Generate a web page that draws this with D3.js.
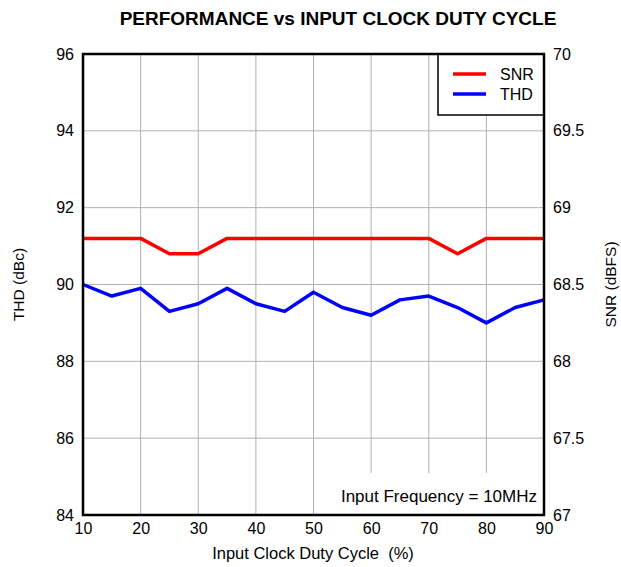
<!DOCTYPE html>
<html>
<head>
<meta charset="utf-8">
<script src="https://cdn.jsdelivr.net/npm/d3@7/dist/d3.min.js"></script>
<style>
  body { margin: 0; background: #fff; }
  svg { display: block; font-family: Arial, "Liberation Sans", sans-serif; }
</style>
</head>
<body>
<svg id="chart" width="621" height="567"></svg>
<script>
const dutyCycle = [10, 15, 20, 25, 30, 35, 40, 45, 50, 55, 60, 65, 70, 75, 80, 85, 90];
const snr = [68.8, 68.8, 68.8, 68.7, 68.7, 68.8, 68.8, 68.8, 68.8, 68.8, 68.8, 68.8, 68.8, 68.7, 68.8, 68.8, 68.8];
const thd = [90.0, 89.7, 89.9, 89.3, 89.5, 89.9, 89.5, 89.3, 89.8, 89.4, 89.2, 89.6, 89.7, 89.4, 89.0, 89.4, 89.6];
const xTicks = [10, 20, 30, 40, 50, 60, 70, 80, 90];
const leftTicks = [84, 86, 88, 90, 92, 94, 96];
const rightTicks = [67, 67.5, 68, 68.5, 69, 69.5, 70];
const rightTickLabels = ["67", "67.5", "68", "68.5", "69", "69.5", "70"];

const svg = d3.select("#chart");
const L = 83, R = 544, T = 54, B = 515;

const x = d3.scaleLinear().domain([10, 90]).range([L, R]);
const yL = d3.scaleLinear().domain([84, 96]).range([B, T]);
const yR = d3.scaleLinear().domain([67, 70]).range([B, T]);

// grid
const grid = svg.append("g");
grid.selectAll("line.v").data(xTicks.slice(1, -1)).enter().append("line")
  .attr("x1", d => x(d)).attr("x2", d => x(d)).attr("y1", T).attr("y2", B)
  .attr("stroke", "#b0b0b0").attr("stroke-width", 1);
grid.selectAll("line.h").data(leftTicks.slice(1, -1)).enter().append("line")
  .attr("x1", L).attr("x2", R).attr("y1", d => yL(d)).attr("y2", d => yL(d))
  .attr("stroke", "#b0b0b0").attr("stroke-width", 1);

// annotation background
svg.append("rect").attr("x", 332).attr("y", 473).attr("width", R - 332).attr("height", B - 473).attr("fill", "#fff");
svg.append("text").attr("x", 537).attr("y", 502).attr("text-anchor", "end")
  .attr("font-size", 17).attr("fill", "#000").text("Input Frequency = 10MHz");

// lines
const lineSNR = d3.line().x((d, i) => x(dutyCycle[i])).y(d => yR(d));
const lineTHD = d3.line().x((d, i) => x(dutyCycle[i])).y(d => yL(d));
svg.append("path").datum(snr).attr("d", lineSNR).attr("fill", "none")
  .attr("stroke", "#ff0000").attr("stroke-width", 3.5).attr("stroke-linejoin", "round");
svg.append("path").datum(thd).attr("d", lineTHD).attr("fill", "none")
  .attr("stroke", "#0000ff").attr("stroke-width", 3.5).attr("stroke-linejoin", "round");

// legend
const lg = svg.append("g");
lg.append("rect").attr("x", 438).attr("y", T).attr("width", R - 438).attr("height", 115 - T)
  .attr("fill", "#fff").attr("stroke", "#000").attr("stroke-width", 1.5);
const legendItems = [{name: "SNR", color: "#ff0000", y: 74}, {name: "THD", color: "#0000ff", y: 94}];
legendItems.forEach(it => {
  lg.append("line").attr("x1", 453).attr("x2", 486).attr("y1", it.y).attr("y2", it.y)
    .attr("stroke", it.color).attr("stroke-width", 3.5);
  lg.append("text").attr("x", 500).attr("y", it.y + 6).attr("font-size", 16).text(it.name);
});

// frame
svg.append("rect").attr("x", L).attr("y", T).attr("width", R - L).attr("height", B - T)
  .attr("fill", "none").attr("stroke", "#000").attr("stroke-width", 2.5);

// axes
const xAxis = svg.append("g").attr("transform", `translate(0,${B})`)
  .call(d3.axisBottom(x).tickValues(xTicks).tickSize(0).tickPadding(8).tickFormat(d3.format("d")));
const lAxis = svg.append("g").attr("transform", `translate(${L},0)`)
  .call(d3.axisLeft(yL).tickValues(leftTicks).tickSize(0).tickPadding(9).tickFormat(d3.format("d")));
const rAxis = svg.append("g").attr("transform", `translate(${R},0)`)
  .call(d3.axisRight(yR).tickValues(rightTicks).tickSize(0).tickPadding(9).tickFormat((d, i) => rightTickLabels[i]));
[xAxis, lAxis, rAxis].forEach(a => {
  a.select(".domain").remove();
  a.selectAll("text").attr("font-size", 16).attr("font-family", "Arial, 'Liberation Sans', sans-serif").attr("fill", "#000");
});

// titles
svg.append("text").attr("x", 338).attr("y", 25).attr("text-anchor", "middle")
  .attr("font-size", 19).attr("font-weight", "bold").text("PERFORMANCE vs INPUT CLOCK DUTY CYCLE");
svg.append("text").attr("x", 313).attr("y", 559).attr("text-anchor", "middle")
  .attr("font-size", 16.5).attr("xml:space", "preserve").text("Input Clock Duty Cycle  (%)");
svg.append("text").attr("transform", `translate(24,${(T + B) / 2}) rotate(-90)`).attr("text-anchor", "middle")
  .attr("font-size", 15.5).text("THD (dBc)");
svg.append("text").attr("transform", `translate(616,${(T + B) / 2}) rotate(-90)`).attr("text-anchor", "middle")
  .attr("font-size", 15.5).text("SNR (dBFS)");
</script>
</body>
</html>
